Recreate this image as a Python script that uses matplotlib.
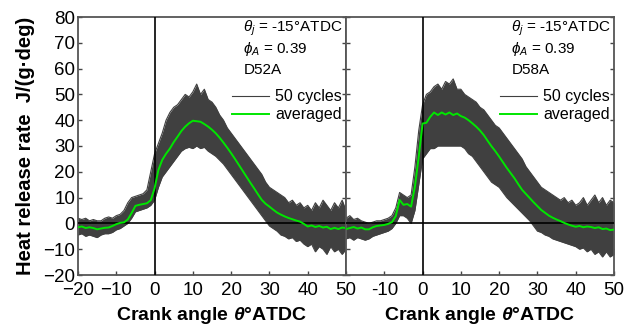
import numpy as np
import matplotlib
matplotlib.use("Agg")
import matplotlib.pyplot as plt

plt.rcParams['font.family'] = ['Liberation Sans', 'DejaVu Sans']
plt.rcParams['mathtext.fontset'] = 'custom'
plt.rcParams['mathtext.rm'] = 'Liberation Sans'
plt.rcParams['mathtext.it'] = 'Liberation Sans:italic'
plt.rcParams['mathtext.bf'] = 'Liberation Sans:bold:italic'

# ---- data ----
angles = list(range(-20, 51))  # crank angle, deg ATDC

d52a_avg = [-1.5, -1.2, -1.8, -1.5, -1.8, -2.3, -2.0, -1.7, -1.6, -1.0,
            -0.3, 0.2, 0.4, 1.5, 4.0, 6.8, 7.2, 7.5, 7.8, 9.0,
            13.6, 20.7, 24.6, 27.0, 29.0, 31.5, 33.6, 35.8, 37.5, 38.8,
            39.8, 39.6, 39.4, 38.5, 37.5, 36.3, 34.9, 33.2, 31.3, 29.3,
            27.2, 25.0, 22.7, 20.4, 18.1, 15.8, 13.6, 11.3, 9.1, 7.6,
            6.5, 5.3, 4.2, 3.4, 2.7, 2.1, 1.6, 1.1, 0.7, -0.2,
            -1.2, -0.8, -1.4, -1.0, -1.6, -1.3, -2.2, -1.7, -2.2, -1.6, -1.8]
d52a_hi = [2.0, 1.5, 2.0, 1.0, 1.5, 1.0, 1.0, 2.0, 2.5, 2.0,
           3.0, 3.5, 5.0, 8.0, 10.0, 10.5, 11.0, 11.5, 13.0, 20.0,
           27.0, 31.0, 35.0, 40.0, 43.0, 45.0, 46.0, 48.0, 50.0, 49.0,
           51.0, 54.0, 50.0, 52.0, 48.0, 47.0, 45.0, 42.0, 40.0, 37.0,
           35.0, 33.0, 31.0, 29.0, 27.0, 25.0, 23.0, 21.0, 19.0, 16.0,
           14.0, 13.0, 12.0, 11.0, 10.0, 8.0, 9.0, 7.0, 8.0, 6.0,
           7.0, 5.0, 8.0, 6.0, 9.0, 7.0, 5.0, 8.0, 6.0, 9.0, 5.0]
d52a_lo = [-4.5, -4.0, -5.0, -4.5, -5.0, -5.5, -4.5, -4.0, -4.0, -3.5,
           -2.5, -2.0, -1.0, 0.0, 2.0, 4.5, 5.0, 5.5, 6.0, 7.0,
           9.0, 14.0, 18.0, 20.0, 22.0, 24.0, 26.0, 28.0, 29.0, 29.5,
           29.0, 30.0, 29.0, 29.5, 28.0, 27.0, 26.0, 24.5, 23.0, 21.0,
           19.0, 17.0, 15.0, 13.0, 11.0, 9.0, 7.0, 5.0, 3.0, 1.0,
           -1.0, -2.0, -3.0, -4.5, -5.0, -6.0, -5.5, -7.0, -6.5, -8.0,
           -9.0, -8.0, -11.0, -9.0, -10.0, -12.0, -9.0, -11.0, -10.0, -12.0, -10.0]

d58a_avg = [-2.2, -1.8, -1.4, -2.0, -1.6, -2.3, -2.3, -1.5, -1.0, -0.8,
            -0.6, -0.2, 0.5, 2.8, 9.1, 7.2, 7.5, 6.5, 14.3, 25.9,
            38.7, 39.0, 41.3, 43.0, 42.0, 43.0, 42.2, 43.0, 42.0, 42.6,
            41.6, 41.0, 40.0, 38.8, 37.5, 36.0, 34.2, 32.0, 29.9, 28.0,
            25.9, 23.7, 21.5, 19.5, 17.5, 15.2, 13.0, 11.4, 9.8, 8.2,
            6.7, 5.2, 4.1, 3.0, 2.2, 1.5, 0.9, 0.2, -0.4, -0.9,
            -1.3, -1.0, -1.5, -1.2, -1.4, -1.8, -1.5, -2.2, -2.0, -2.6, -2.4]
d58a_hi = [2.0, 3.0, 1.5, 2.0, 1.0, 0.5, 0.0, 0.5, 1.0, 1.0,
           1.5, 2.0, 3.0, 6.0, 12.0, 11.0, 10.0, 11.0, 22.0, 36.0,
           46.0, 50.0, 51.0, 53.0, 54.0, 52.0, 55.0, 54.0, 56.0, 52.0,
           52.0, 50.0, 49.0, 48.0, 47.0, 45.0, 44.0, 42.0, 40.0, 38.0,
           37.0, 35.0, 33.0, 31.0, 29.0, 27.0, 25.0, 22.0, 20.0, 18.0,
           16.0, 14.0, 13.0, 12.0, 11.0, 10.0, 9.0, 10.0, 8.0, 9.0,
           7.0, 8.0, 10.0, 7.0, 9.0, 11.0, 8.0, 10.0, 7.0, 9.0, 8.0]
d58a_lo = [-6.0, -5.5, -6.5, -5.5, -6.0, -6.5, -6.0, -5.0, -4.5, -4.0,
           -3.5, -3.0, -2.0, 0.0, 3.0, 3.0, 2.0, 0.0, 5.0, 15.0,
           25.0, 27.0, 29.0, 29.0, 30.0, 30.0, 30.0, 30.0, 30.0, 30.0,
           30.0, 29.0, 27.0, 26.0, 24.0, 22.0, 20.0, 18.0, 16.0, 15.0,
           14.0, 12.0, 10.0, 8.5, 7.0, 5.5, 4.0, 2.5, 1.0, -1.0,
           -3.0, -3.5, -4.5, -5.0, -6.0, -6.5, -7.0, -7.5, -8.0, -8.5,
           -9.0, -10.0, -9.5, -11.0, -10.0, -12.0, -11.0, -13.0, -11.0, -13.0, -12.0]

xticks = [-20, -10, 0, 10, 20, 30, 40, 50]
yticks = [-20, -10, 0, 10, 20, 30, 40, 50, 60, 70, 80]
panels = [("D52A", d52a_avg, d52a_hi, d52a_lo),
          ("D58A", d58a_avg, d58a_hi, d58a_lo)]

# ---- figure ----
fig = plt.figure(figsize=(6.34, 3.26), dpi=100)
ax_w = 268 / 634
axes = [fig.add_axes([78 / 634, 51 / 326, ax_w, 258 / 326]),
        fig.add_axes([346 / 634, 51 / 326, ax_w, 258 / 326])]

band_col = '#404040'
green = '#00e600'

for i, (ax, (name, avg, hi, lo)) in enumerate(zip(axes, panels)):
    ax.fill_between(angles, lo, hi, color=band_col, lw=0, zorder=2)
    ax.plot(angles, hi, color=band_col, lw=0.8, zorder=2, label='50 cycles')
    ax.plot(angles, lo, color=band_col, lw=0.8, zorder=2)
    ax.plot(angles, avg, color=green, lw=1.4, zorder=4, label='averaged')
    ax.axhline(0, color='black', lw=1.2, zorder=3)
    ax.axvline(0, color='black', lw=1.2, zorder=3)

    ax.set_xlim(-20, 50)
    ax.set_ylim(-20, 80)
    ax.set_xticks(xticks)
    ax.set_yticks(yticks)
    ax.tick_params(direction='in', length=3, width=1, labelsize=13.5,
                   right=True, top=False, colors='#444444', labelcolor='black')
    ax.tick_params(axis='y', pad=2)
    ax.tick_params(axis='x', pad=5)
    for sp in ax.spines.values():
        sp.set_color('#555555')
        sp.set_linewidth(1.3)
    ax.set_xlabel(r'Crank angle $\mathbf{\theta}$°ATDC', fontsize=14,
                  fontweight='bold', labelpad=4)

    ax.text(23.2, 75.7, r'$\theta_j$ = -15°ATDC', fontsize=11, va='center')
    ax.text(23.2, 67.6, r'$\phi_A$ = 0.39', fontsize=11, va='center')
    ax.text(23.2, 59.5, name, fontsize=11, va='center')

    ax.legend(loc='upper left', bbox_to_anchor=(0.575, 0.72), frameon=False,
              fontsize=11.5, handlelength=2.3, handletextpad=0.4,
              borderpad=0, borderaxespad=0, labelspacing=0.2)

axes[0].set_ylabel('Heat release rate  J/(g·deg)', fontsize=14.5,
                   fontweight='bold', labelpad=6)
axes[1].tick_params(labelleft=False)
axes[1].set_xticks(xticks)
axes[1].set_xticklabels([''] + [str(t) for t in xticks[1:]])

fig.savefig('out.png', dpi=100)
